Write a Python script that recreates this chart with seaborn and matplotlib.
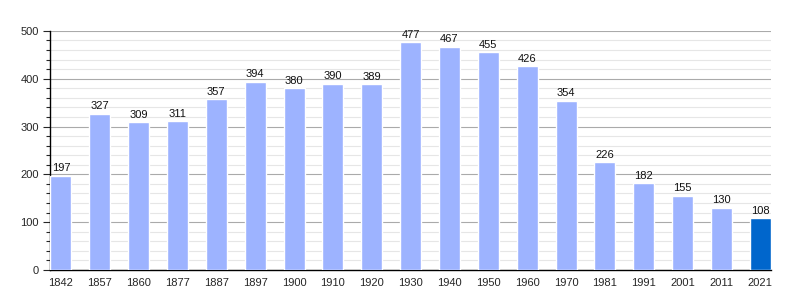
import matplotlib
matplotlib.use("Agg")
import matplotlib.pyplot as plt
import seaborn as sns
import pandas as pd
from matplotlib.ticker import MultipleLocator

years = ["1842", "1857", "1860", "1877", "1887", "1897", "1900", "1910", "1920", "1930",
         "1940", "1950", "1960", "1970", "1981", "1991", "2001", "2011", "2021"]
population = [197, 327, 309, 311, 357, 394, 380, 390, 389, 477,
              467, 455, 426, 354, 226, 182, 155, 130, 108]

light = "#9db3ff"
dark = "#0066cc"
colors = [light] * (len(years) - 1) + [dark]

sns.set_style("white")
plt.rcParams['font.family'] = ['Liberation Sans', 'DejaVu Sans']

fig = plt.figure(figsize=(8, 3), dpi=100)
ax = fig.add_axes([0.0625, 0.1, 0.9015, 0.797])

df = pd.DataFrame({"year": years, "pop": population})
sns.barplot(data=df, x="year", y="pop", hue="year", palette=colors, legend=False,
            width=0.54, ax=ax, saturation=1, zorder=3)

for i, v in enumerate(population):
    ax.text(i, v + 5, str(v), ha="center", va="bottom", fontsize=8, color="#111111", zorder=4)

ax.set_xlim(-0.28, len(years) - 0.72)
ax.set_ylim(0, 500)
ax.yaxis.set_major_locator(MultipleLocator(100))
ax.yaxis.set_minor_locator(MultipleLocator(20))
ax.grid(axis="y", which="major", color="#aaaaaa", linewidth=0.8, zorder=0)
ax.grid(axis="y", which="minor", color="#e6e6e6", linewidth=0.8, zorder=0)
ax.set_axisbelow(True)
ax.set_xlabel("")
ax.set_ylabel("")
for s in ["top", "right"]:
    ax.spines[s].set_visible(False)
ax.spines["left"].set_color("black")
ax.spines["bottom"].set_color("black")
ax.spines["left"].set_linewidth(1.0)
ax.spines["bottom"].set_linewidth(1.0)
ax.tick_params(axis="y", which="major", left=True, length=5, width=0.8, labelsize=8, pad=3)
ax.tick_params(axis="y", which="minor", left=True, length=3, width=0.8)
ax.tick_params(axis="x", bottom=False, labelsize=8, pad=2)

fig.savefig("out.png", dpi=100)
